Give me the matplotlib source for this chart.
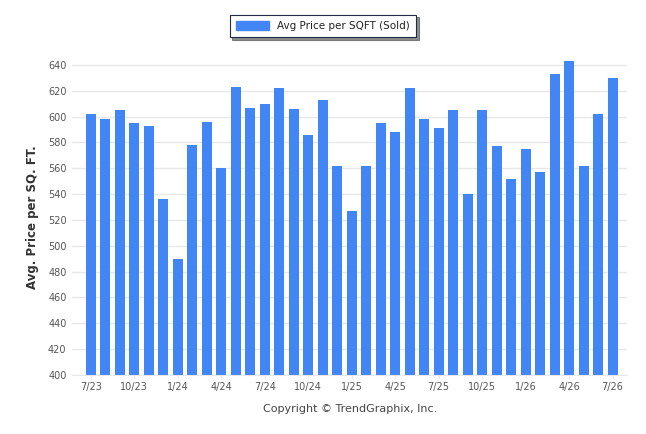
import numpy as np
import matplotlib
matplotlib.use("Agg")
import matplotlib.pyplot as plt
from matplotlib.patches import Patch

# Data
months = ["7/23", "8/23", "9/23", "10/23", "11/23", "12/23",
          "1/24", "2/24", "3/24", "4/24", "5/24", "6/24",
          "7/24", "8/24", "9/24", "10/24", "11/24", "12/24",
          "1/25", "2/25", "3/25", "4/25", "5/25", "6/25",
          "7/25", "8/25", "9/25", "10/25", "11/25", "12/25",
          "1/26", "2/26", "3/26", "4/26", "5/26", "6/26", "7/26"]
price = [602, 598, 605, 595, 593, 536,
         490, 578, 596, 560, 623, 607,
         610, 622, 606, 586, 613, 562,
         527, 562, 595, 588, 622, 598,
         591, 605, 540, 605, 577, 552,
         575, 557, 633, 643, 562, 602, 630]
yticks = [400, 420, 440, 460, 480, 500, 520, 540, 560, 580, 600, 620, 640]

barcol = '#4285f4'
gridcol = '#e8e8e8'
txtcol = '#555555'

fig = plt.figure(figsize=(6.46, 4.34), dpi=100)
ax = fig.add_axes([72/646, 1-375/434, (627-72)/646, 316.5/434])

x = np.arange(len(months))
ax.bar(x, price, width=0.69, color=barcol, zorder=2)

ax.set_ylim(400, 645)
ax.set_xlim(-1.3, len(months) - 0.0)
ax.set_yticks(yticks)
ax.set_yticklabels([str(v) for v in yticks], fontsize=7, color=txtcol)
ax.set_xticks(x[::3])
ax.set_xticklabels(months[::3], fontsize=7, color=txtcol)
ax.yaxis.grid(True, color=gridcol, lw=1, zorder=0)
ax.set_axisbelow(True)
for s in ['top', 'right', 'left']:
    ax.spines[s].set_visible(False)
ax.spines['bottom'].set_color(gridcol)
ax.tick_params(axis='y', length=0, pad=4)
ax.tick_params(axis='x', length=3, color=gridcol, pad=2)

ax.set_ylabel("Avg. Price per SQ. FT.", fontsize=8.5, fontweight='bold',
              color='#333333', labelpad=6)

leg = fig.legend(handles=[Patch(color=barcol, label="Avg Price per SQFT (Sold)")],
                 loc='center', bbox_to_anchor=(323/646, 1-26/434), fontsize=7.5,
                 frameon=True, fancybox=False, shadow={'color': '#444444', 'alpha': 0.6},
                 handlelength=3.2, handleheight=1.0, borderpad=0.6, labelcolor='#222222')
leg.get_frame().set_edgecolor('#1f2a44')
leg.get_frame().set_linewidth(0.8)

fig.text(350/646, 1-409/434, "Copyright \u00a9 TrendGraphix, Inc.", ha='center',
         va='center', fontsize=8, color='#444444')

fig.savefig('out.png', dpi=100)
plt.close(fig)
